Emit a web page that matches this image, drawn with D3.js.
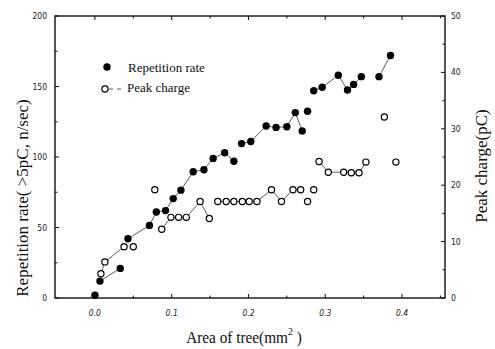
<!DOCTYPE html>
<html>
<head>
<meta charset="utf-8">
<script src="https://cdn.jsdelivr.net/npm/d3@7"></script>
<style>
body { margin: 0; background: #fff; }
svg { display: block; }
.tick-lbl { font-family: "Liberation Sans Narrow", "DejaVu Sans Condensed", sans-serif; font-size: 8.5px; fill: #222; }
.ttl { font-family: "Liberation Serif", "DejaVu Serif", serif; fill: #111; }
</style>
</head>
<body>
<script>
var w = 495, h = 349;

// Repetition rate (left axis, n/sec)
var repArea = [0.000, 0.0065, 0.033, 0.043, 0.071, 0.080, 0.092, 0.102, 0.112, 0.128,
	0.142, 0.154, 0.169, 0.181, 0.191, 0.203, 0.223, 0.236, 0.250, 0.261,
	0.270, 0.277, 0.285, 0.296, 0.317, 0.329, 0.337, 0.347, 0.370, 0.385];
var repRate = [2, 12, 21, 42, 51.5, 61, 62, 70.5, 76.5, 89.5,
	91, 99, 103, 97, 109.5, 111, 122, 121, 121.5, 131.5,
	118.5, 132.5, 147, 149.5, 158, 147.5, 151.5, 157, 157, 172];
// line is broken after these indices
var repBreaks = [0, 2, 13, 20, 21, 27];

// Peak charge (right axis, pC)
var pkArea = [0.0078, 0.013, 0.038, 0.050, 0.078, 0.087, 0.099, 0.109, 0.119, 0.137,
	0.149, 0.160, 0.171, 0.181, 0.192, 0.201, 0.211, 0.230, 0.243, 0.258,
	0.268, 0.277, 0.285, 0.292, 0.304, 0.324, 0.334, 0.344, 0.353, 0.377, 0.392];
var pkCharge = [4.3, 6.4, 9.1, 9.1, 19.2, 12.2, 14.3, 14.3, 14.3, 17.1,
	14.1, 17.1, 17.1, 17.1, 17.1, 17.1, 17.1, 19.2, 17.1, 19.2,
	19.2, 17.1, 19.2, 24.2, 22.3, 22.3, 22.2, 22.2, 24.1, 32.1, 24.1];
var pkBreaks = [2, 3, 4, 10, 20, 21, 22, 28, 29];

var xTicks = [0.0, 0.1, 0.2, 0.3, 0.4];
var leftTicks = [0, 50, 100, 150, 200];
var rightTicks = [0, 10, 20, 30, 40, 50];

var L = 55, R = 445, T = 16, B = 298;

var x = d3.scaleLinear().domain([-0.052, 0.456]).range([L, R]);
var yL = d3.scaleLinear().domain([0, 200]).range([B, T]);
var yR = d3.scaleLinear().domain([0, 50]).range([B, T]);

var svg = d3.select("body").append("svg")
	.attr("width", w)
	.attr("height", h);

// frame
svg.append("rect")
	.attr("x", L).attr("y", T)
	.attr("width", R - L).attr("height", B - T)
	.style("fill", "none")
	.style("stroke", "#111")
	.style("stroke-width", 1.4);

// ticks (inward)
var tk = svg.append("g").style("stroke", "#111").style("stroke-width", 1);
d3.range(0, 0.451, 0.05).forEach(function(v, i) {
	var len = i % 2 == 0 ? 4 : 2.5;
	tk.append("line").attr("x1", x(v)).attr("x2", x(v)).attr("y1", B).attr("y2", B - len);
	tk.append("line").attr("x1", x(v)).attr("x2", x(v)).attr("y1", T).attr("y2", T + len);
});
d3.range(0, 201, 25).forEach(function(v, i) {
	var len = i % 2 == 0 ? 4 : 2.5;
	tk.append("line").attr("x1", L).attr("x2", L + len).attr("y1", yL(v)).attr("y2", yL(v));
});
d3.range(0, 51, 5).forEach(function(v, i) {
	var len = i % 2 == 0 ? 4 : 2.5;
	tk.append("line").attr("x1", R).attr("x2", R - len).attr("y1", yR(v)).attr("y2", yR(v));
});

// tick labels
svg.append("g").selectAll("text")
	.data(xTicks).enter().append("text")
	.attr("class", "tick-lbl")
	.attr("x", function(d) { return x(d); })
	.attr("y", 316)
	.attr("text-anchor", "middle")
	.style("font-style", "italic")
	.text(function(d) { return d3.format(".1f")(d); });

svg.append("g").selectAll("text")
	.data(leftTicks).enter().append("text")
	.attr("class", "tick-lbl")
	.attr("x", 47)
	.attr("y", function(d) { return yL(d) + 3; })
	.attr("text-anchor", "end")
	.text(function(d) { return d; });

svg.append("g").selectAll("text")
	.data(rightTicks).enter().append("text")
	.attr("class", "tick-lbl")
	.attr("x", 451)
	.attr("y", function(d) { return yR(d) + 3; })
	.text(function(d) { return d; });

// axis titles
svg.append("text").attr("class", "ttl")
	.attr("transform", "translate(28,198) rotate(-90)")
	.attr("text-anchor", "middle")
	.style("font-size", "17px")
	.text("Repetition rate( >5pC, n/sec)");

svg.append("text").attr("class", "ttl")
	.attr("transform", "translate(487,166) rotate(-90)")
	.attr("text-anchor", "middle")
	.style("font-size", "17px")
	.text("Peak charge(pC)");

var xt = svg.append("g").attr("transform", "translate(244,343) scale(0.9,1)")
	.append("text").attr("class", "ttl")
	.attr("text-anchor", "middle")
	.style("font-size", "17px");
xt.append("tspan").text("Area of tree(mm");
xt.append("tspan").attr("dy", -8).style("font-size", "11px").text("2");
xt.append("tspan").attr("dy", 8).text(" )");

// connecting lines
function segs(xs, ys, breaks) {
	var out = [], cur = [];
	xs.forEach(function(v, i) {
		cur.push([v, ys[i]]);
		if (breaks.indexOf(i) >= 0 || i == xs.length - 1) {
			if (cur.length > 1) out.push(cur);
			cur = [];
		}
	});
	return out;
}

var lineL = d3.line().x(function(d) { return x(d[0]); }).y(function(d) { return yL(d[1]); });
var lineR = d3.line().x(function(d) { return x(d[0]); }).y(function(d) { return yR(d[1]); });

svg.append("g").selectAll("path")
	.data(segs(repArea, repRate, repBreaks)).enter().append("path")
	.attr("d", lineL)
	.style("fill", "none").style("stroke", "#333").style("stroke-width", 0.8);

svg.append("g").selectAll("path")
	.data(segs(pkArea, pkCharge, pkBreaks)).enter().append("path")
	.attr("d", lineR)
	.style("fill", "none").style("stroke", "#333").style("stroke-width", 0.8);

// markers
svg.append("g").selectAll("circle")
	.data(repArea).enter().append("circle")
	.attr("cx", function(d) { return x(d); })
	.attr("cy", function(d, i) { return yL(repRate[i]); })
	.attr("r", 3.7)
	.style("fill", "#000");

svg.append("g").selectAll("circle")
	.data(pkArea).enter().append("circle")
	.attr("cx", function(d) { return x(d); })
	.attr("cy", function(d, i) { return yR(pkCharge[i]); })
	.attr("r", 3.1)
	.style("fill", "#fff")
	.style("stroke", "#000")
	.style("stroke-width", 1.2);

// legend
var leg = svg.append("g");
leg.append("circle").attr("cx", 107).attr("cy", 67).attr("r", 3.7).style("fill", "#000");
leg.append("text").attr("class", "ttl").attr("x", 128).attr("y", 71.5)
	.style("font-size", "13px").text("Repetition rate");
leg.append("line").attr("x1", 109).attr("x2", 124).attr("y1", 89).attr("y2", 89)
	.style("stroke", "#333").style("stroke-width", 0.8).style("stroke-dasharray", "4,4");
leg.append("circle").attr("cx", 105).attr("cy", 89).attr("r", 3.1)
	.style("fill", "#fff").style("stroke", "#000").style("stroke-width", 1.2);
leg.append("text").attr("class", "ttl").attr("x", 127).attr("y", 92)
	.style("font-size", "13px").text("Peak charge");
</script>
</body>
</html>
